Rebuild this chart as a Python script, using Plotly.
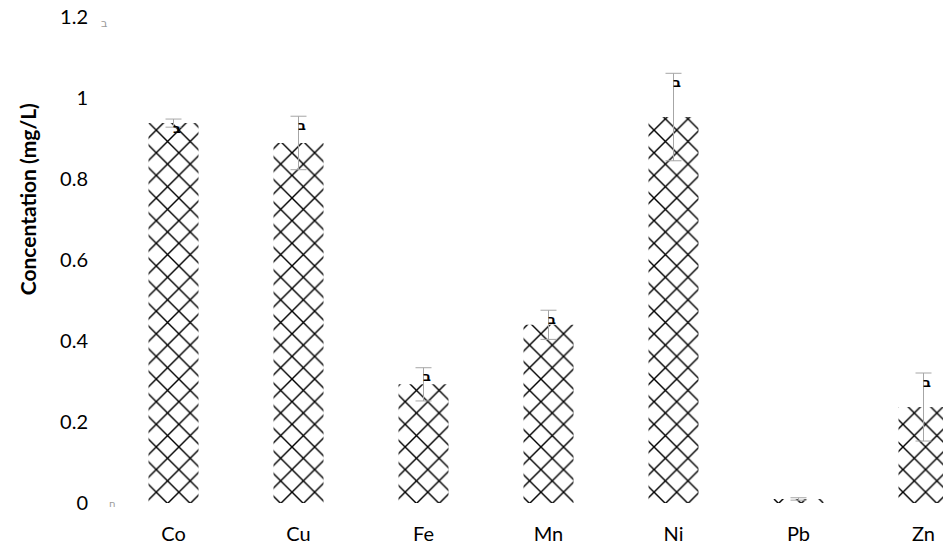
import plotly.graph_objects as go

metals = ["Co", "Cu", "Fe", "Mn", "Ni", "Pb", "Zn"]
conc = [0.938, 0.889, 0.293, 0.440, 0.953, 0.010, 0.237]
err = [0.010, 0.066, 0.041, 0.036, 0.108, 0.003, 0.084]
sig_labels = ["ב", "ב", "ב", "ב", "ב", "", "ב"]
y_ticks = [0, 0.2, 0.4, 0.6, 0.8, 1, 1.2]
y_ticktext = ["0", "0.2", "0.4", "0.6", "0.8", "1", "1.2"]

FONT = "Lato, 'Open Sans', sans-serif"

fig = go.Figure()
fig.add_trace(go.Bar(
    x=list(range(len(metals))), y=conc,
    marker=dict(color="white", line=dict(width=0),
                pattern=dict(shape="x", fgcolor="black", bgcolor="white", fgopacity=1,
                             size=16, solidity=0.17)),
    error_y=dict(type="data", array=err, visible=True,
                 color="#a6a6a6", thickness=1, width=8),
    width=0.4, showlegend=False,
))

for i, (v, e, t) in enumerate(zip(conc, err, sig_labels)):
    if t:
        fig.add_annotation(x=i, y=v + e, text="<b>" + t + "</b>", showarrow=False,
                           xshift=3, yshift=-9,
                           font=dict(family="DejaVu Sans", size=13, color="black"))

fig.add_annotation(xref="paper", yref="y", x=-0.002, y=1.2, text="ב", showarrow=False,
                   xanchor="right", yshift=-6, font=dict(family="DejaVu Sans", size=11, color="#9a9a9a"))
fig.add_annotation(xref="paper", yref="y", x=0.008, y=0, text="ח", showarrow=False,
                   xanchor="right", font=dict(family="DejaVu Sans", size=10, color="#9a9a9a"))

fig.add_annotation(xref="paper", yref="paper", x=-0.101, y=0.625, text="<b>Concentation (mg/L)</b>",
                   textangle=-90, showarrow=False, xanchor="center", yanchor="middle",
                   font=dict(family=FONT, size=21, color="black"))

fig.update_layout(
    width=943, height=546,
    margin=dict(l=111, r=0, t=17, b=43),
    paper_bgcolor="white", plot_bgcolor="white",
    font=dict(family=FONT, size=20, color="black"),
    xaxis=dict(tickmode="array", tickvals=list(range(len(metals))), ticktext=metals,
               range=[-0.5, 6.156], showgrid=False, zeroline=False, showline=False,
               ticks="", ticklabelstandoff=17, tickfont=dict(size=20)),
    yaxis=dict(tickmode="array", tickvals=y_ticks, ticktext=y_ticktext,
               range=[0, 1.2], showgrid=False, zeroline=False, showline=False,
               ticks="", ticklabelstandoff=22, tickfont=dict(size=20)),
)

fig.write_html("out.html", config={"displayModeBar": False},
               post_script="document.body.style.margin='0';document.body.style.overflow='hidden';")
